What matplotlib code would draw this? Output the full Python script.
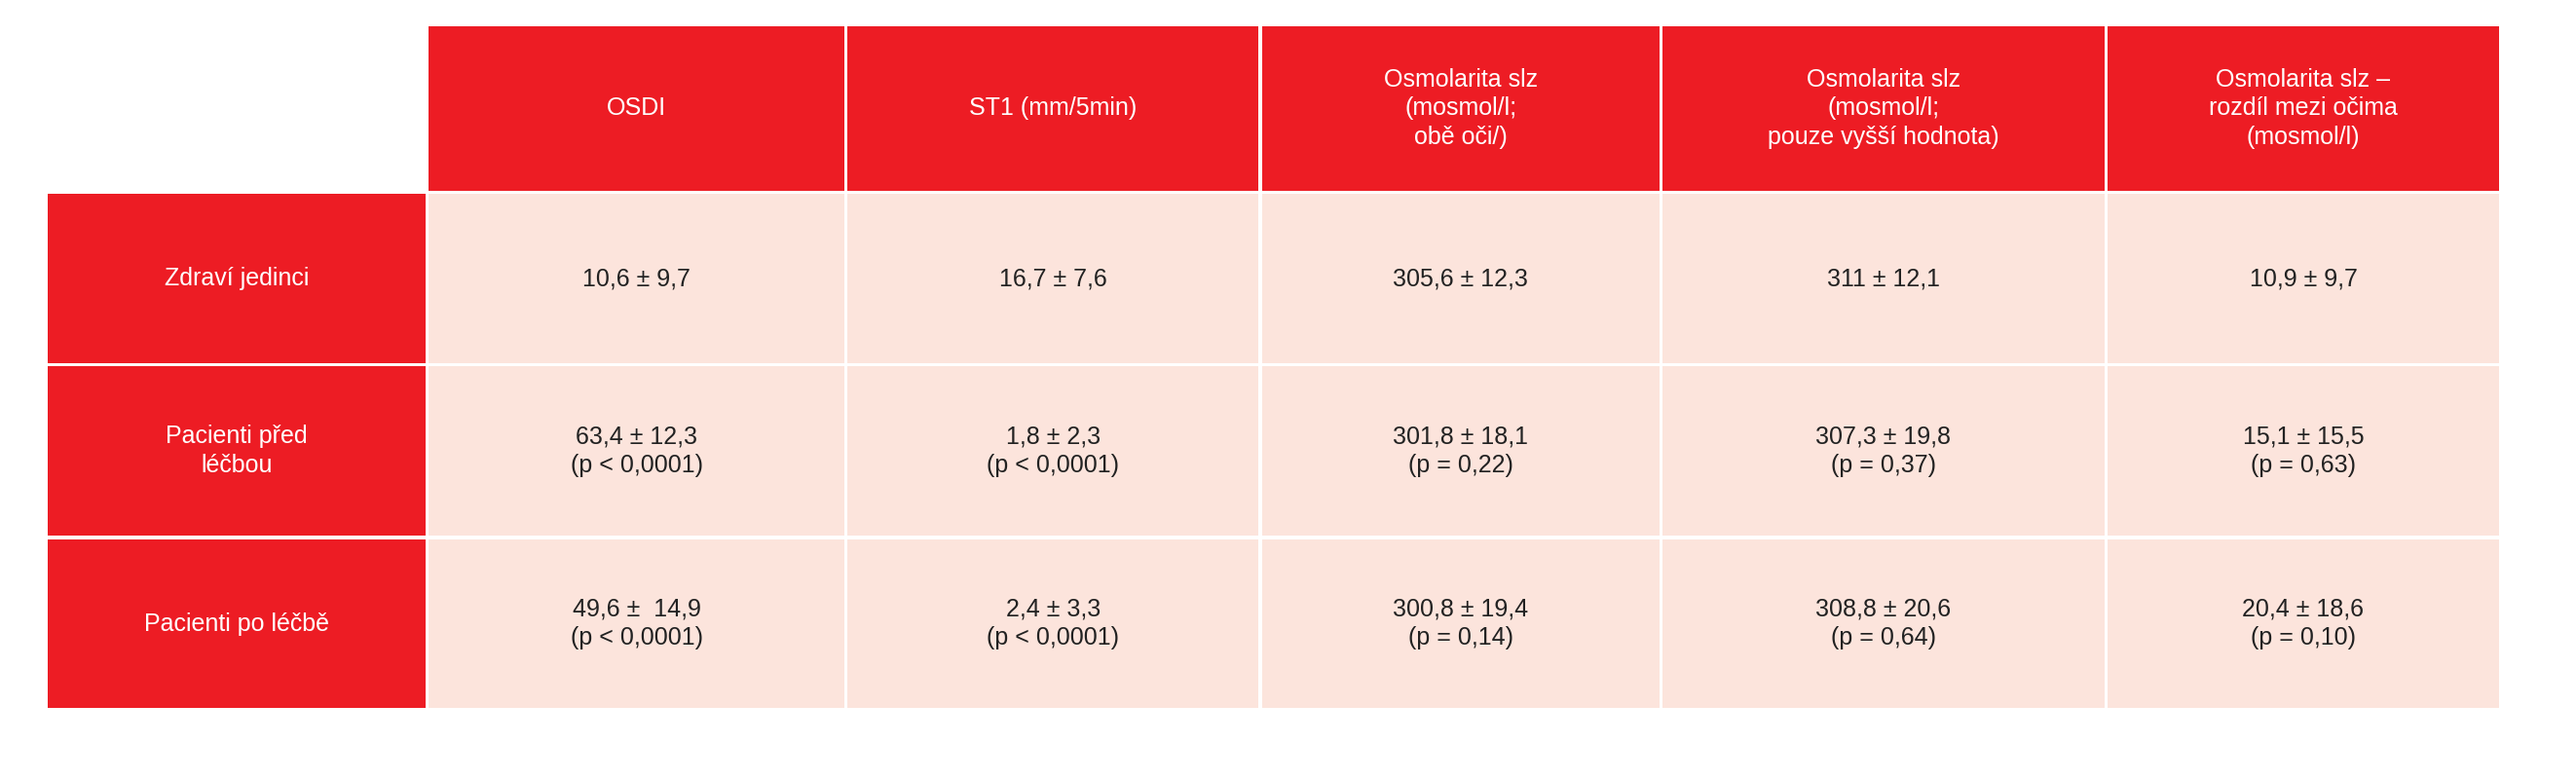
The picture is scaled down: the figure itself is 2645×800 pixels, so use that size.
import matplotlib.pyplot as plt
from matplotlib.patches import Rectangle
from matplotlib import font_manager

headers = ["OSDI", "ST1 (mm/5min)", "Osmolarita slz\n(mosmol/l;\nobě oči/)",
           "Osmolarita slz\n(mosmol/l;\npouze vyšší hodnota)",
           "Osmolarita slz –\nrozdíl mezi očima\n(mosmol/l)"]
row_labels = ["Zdraví jedinci", "Pacienti před\nléčbou", "Pacienti po léčbě"]
cells = [
    ["10,6 ± 9,7", "16,7 ± 7,6", "305,6 ± 12,3", "311 ± 12,1", "10,9 ± 9,7"],
    ["63,4 ± 12,3\n(p < 0,0001)", "1,8 ± 2,3\n(p < 0,0001)", "301,8 ± 18,1\n(p = 0,22)",
     "307,3 ± 19,8\n(p = 0,37)", "15,1 ± 15,5\n(p = 0,63)"],
    ["49,6 ±  14,9\n(p < 0,0001)", "2,4 ± 3,3\n(p < 0,0001)", "300,8 ± 19,4\n(p = 0,14)",
     "308,8 ± 20,6\n(p = 0,64)", "20,4 ± 18,6\n(p = 0,10)"],
]

# layout in reference pixel space (1568 x 474)
col_x = [28, 260, 515, 767, 1011, 1282, 1522]
row_y = [15, 199, 374, 551, 728]
red = "#ED1C24"
pink = "#FCE4DC"

names = {f.name for f in font_manager.fontManager.ttflist}
family = "Liberation Sans Narrow" if "Liberation Sans Narrow" in names else "Liberation Sans"
row_y = [15, 117, 222, 327, 432]

fig = plt.figure(figsize=(26.45, 8), dpi=100)
ax = fig.add_axes([0, 0, 1, 1])
ax.set_xlim(0, 1568)
ax.set_ylim(474, 0)
ax.axis("off")

gap = 2
fs = 18

def cell(x0, x1, y0, y1, color, text, tcolor):
    ax.add_patch(Rectangle((x0 + gap / 2, y0 + gap / 2), x1 - x0 - gap, y1 - y0 - gap,
                           facecolor=color, edgecolor="none"))
    ax.text((x0 + x1) / 2, (y0 + y1) / 2, text, ha="center", va="center",
            color=tcolor, fontsize=fs, family=family, linespacing=1.3)

for j, h in enumerate(headers):
    cell(col_x[j + 1], col_x[j + 2], row_y[0], row_y[1], red, h, "white")
for i, lab in enumerate(row_labels):
    cell(col_x[0], col_x[1], row_y[i + 1], row_y[i + 2], red, lab, "white")
    for j, v in enumerate(cells[i]):
        cell(col_x[j + 1], col_x[j + 2], row_y[i + 1], row_y[i + 2], pink, v, "#222222")

fig.savefig("out.png", dpi=100, facecolor="white")
